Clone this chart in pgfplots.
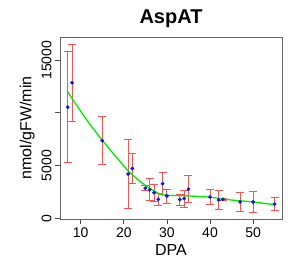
\documentclass[border=0pt]{standalone}
\usepackage{pgfplots}
\pgfplotsset{compat=1.18}
\usepackage{fontspec}
\setmainfont{Liberation Sans}
\definecolor{errred}{RGB}{255,80,80}
\definecolor{ptblue}{RGB}{20,20,230}
\definecolor{fitgreen}{RGB}{0,235,0}
\begin{document}
\begin{tikzpicture}
\path[use as bounding box] (-60pt,-49pt) rectangle (231pt,219pt);
\begin{axis}[
  at={(0,0)}, anchor=south west,
  scale only axis, width=222pt, height=182pt,
  xmin=5.2, xmax=56.7, ymin=-80, ymax=17200,
  axis line style={black!60, line width=0.8pt},
  tick style={black!70, line width=0.8pt},
  tick align=outside, major tick length=5pt,
  xtick={10,20,30,40,50},
  ytick={0,5000,10000,15000},
  yticklabels={0,5000,,15000},
  xtick pos=bottom, ytick pos=left,
  scaled y ticks=false,
  /pgf/number format/assume math mode=true,
  /pgf/number format/1000 sep={},
  ticklabel style={font=\fontsize{14}{14}\selectfont},
  yticklabel style={rotate=90, anchor=south},
  xlabel={DPA}, ylabel={nmol/gFW/min},
  label style={font=\fontsize{16}{16}\selectfont},
  title={AspAT},
  title style={font=\fontsize{20}{20}\selectfont\bfseries, yshift=0pt},
]
\addplot[errred, line width=0.9pt, mark=none, draw=none,
  error bars/.cd, y dir=both, y explicit,
  error bar style={errred, line width=0.9pt},
  error mark options={errred, line width=0.9pt, mark size=4pt, rotate=90}]
  coordinates {
  (7,10533) +- (0,5290)
  (8,12853) +- (0,3680)
  (15,7355) +- (0,2270)
  (21,4196) +- (0,3270)
  (22,4715) +- (0,1400)
  (25,2848) +- (0,250)
  (26,2688) +- (0,1050)
  (27,2423) +- (0,800)
  (28,1792) +- (0,550)
  (29,3272) +- (0,1050)
  (30,2103) +- (0,660)
  (33,1763) +- (0,530)
  (34,1858) +- (0,800)
  (35,2763) +- (0,1300)
  (40,2009) +- (0,690)
  (42,1726) +- (0,880)
  (43,1792) +- (0,100)
  (47,1537) +- (0,900)
  (50,1537) +- (0,960)
  (55,1349) +- (0,630)
  };
\addplot[fitgreen, line width=1.3pt, smooth, mark=none] coordinates {
  (7,12000) (9,10750) (11,9550) (13,8450) (15,7400) (17,6400) (19,5450)
  (21,4500) (23,3750) (25,3120) (27,2600) (28,2350) (29,2220) (30,2170)
  (32,2150) (35,2110) (38,2050) (40,1990) (43,1830) (45,1720) (47,1650)
  (50,1540) (53,1380) (55,1270)
  };
\addplot[only marks, mark=*, mark size=1.7pt, ptblue] coordinates {
  (7,10533) (8,12853) (15,7355) (21,4196) (22,4715) (25,2848) (26,2688)
  (27,2423) (28,1792) (29,3272) (30,2103) (33,1763) (34,1858) (35,2763)
  (40,2009) (42,1726) (43,1792) (47,1537) (50,1537) (55,1349)
  };
\end{axis}
\end{tikzpicture}
\end{document}
